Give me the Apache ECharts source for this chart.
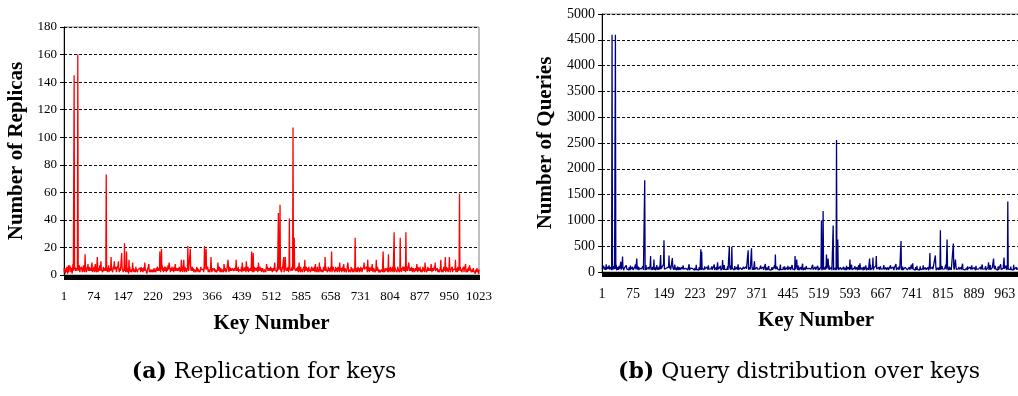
<!DOCTYPE html>
<html>
<head>
<meta charset="utf-8">
<script src="https://cdn.jsdelivr.net/npm/echarts@6/dist/echarts.min.js"></script>
<style>
  html, body { margin: 0; padding: 0; background: #fff; }
  #chart { width: 1018px; height: 396px; }
</style>
</head>
<body>
<div id="chart"></div>
<script>
// replicas per key: background level
const replicaBase = [
  5,2,4,1,3,5,2,6,3,1, 4,7,2,5,3,4,6,2,3,5, 1,4,8,3,2,5,4,6,3,2, 5,
  4,3,6,2,5,4,3,7,2,4, 5,3,6,4,2,3,5,7,4,2, 6,3,4,5,2,3,6,4,5,3, 2,
  6,3,4,2,5,3,7,4,2,5, 3,4,6,2,3,8,4,5,2,3, 6,4,2,5,3,4,7,3,2,5, 4,
  3,5,2,4,6,3,4,2,5,3, 6,4,3,5,2,4,3,7,2,5, 4,3,6,2,4,5,3,2,6,4, 3,
  2,4,5,3,6,2,4,3,5,7, 3,4,2,5,6,3,4,2,3,5, 4,6,2,3,5,4,3,6,2,4, 5,
  4,2,3,5,1,4,3,6,2,4, 5,3,2,4,6,3,5,2,4,3, 5,2,6,4,3,5,2,4,3,5, 4,
  3,5,4,2,6,3,4,5,2,3, 4,6,3,2,5,4,3,2,1,3, 4,2,3,5,2,4,3,2,4,3, 5,
  2,3,4,2,3,5,2,4,3,2, 5,3,4,6,3,2,4,5,3,6, 4,2,5,3,4,7,3,5,2,4, 6,
  5,3,4,6,2,5,4,3,7,4, 5,3,6,4,2,5,3,4,6,3, 5,4,2,6,3,5,4,3,2,4, 5,
  3,4,2,5,3,6,4,2,3,5, 4,3,6,2,4,5,3,4,2,6, 3,5,4,2,3,5,4,6,3,2, 4,
  4,2,5,3,4,2,6,3,5,4, 2,3,4,5,3,2,4,6,3,5, 2,4,3,5,4,2,3,6,4,3, 5,
  3,5,4,2,6,3,4,5,3,2, 4,3,5,6,2,4,3,5,2,4, 6,3,4,2,5,3,4,2,3,5, 4,
  2,4,3,5,2,3,4,2,5,3, 4,6,2,3,5,4,2,3,4,5, 3,2,4,6,3,5,4,2,3,4, 5,
  4,3,5,2,4,6,3,5,4,3, 2,5,4,6,3,4,2,5,3,4, 6,2,3,5,4,3,6,2,4,5, 3,
  5,4,3,6,2,4,5,3,4,2, 5,3,6,4,2,3,5,4,3,6, 2,5,4,3,2,4,5,3,6,4, 2,
  3,5,2,4,6,3,4,2,5,4, 3,6,2,4,5,3,2,4,6,3, 5,4,2,3,5,4,6,2,3,4, 5,
  4,2,3,5,4,6,3,2,5,4, 3,2,4,6,3,5,4,2,3,5, 4,3,6,2,4,5,3,4,2,6, 3,
  2,5,4,3,6,2,4,3,5,2, 6,4,3,5,4,2,3,6,4,5, 3,2,4,5,3,6,2,4,3,5, 4,
  5,3,4,2,6,3,5,4,3,2, 5,6,3,4,2,5,3,4,6,2, 3,5,4,3,2,6,4,5,3,2, 4,
  3,4,6,2,5,3,4,2,6,3, 5,4,2,3,6,4,5,3,2,4, 5,6,3,2,4,5,3,4,6,2, 3,
  4,5,3,2,6,4,3,5,2,4, 3,6,5,2,4,3,5,4,2,6, 3,4,5,2,3,6,4,3,5,2, 4,
  6,3,4,5,2,4,6,3,5,2, 4,3,6,4,5,3,2,4,6,3, 5,4,2,3,6,5,4,2,3,5, 4,
  3,5,2,4,6,3,4,5,2,3, 5,4,6,2,3,4,5,3,6,2, 4,5,3,4,2,6,3,5,4,2, 3,
  4,2,5,3,4,6,2,3,5,4, 2,6,3,4,5,2,3,4,6,3, 5,2,4,3,5,6,2,4,3,5, 4,
  3,6,4,2,5,3,4,6,2,5, 3,4,2,6,3,5,4,2,3,5, 6,4,2,3,4,5,3,2,6,4, 3,
  2,3,4,2,3,1,2,3,4,2, 3,5,2,3,4,2,5,3,2,4, 3,5,2,4,3,2,5,4,3,6, 2,
  5,4,3,6,2,4,5,3,2,6, 4,3,5,4,2,3,6,4,5,3, 2,4,6,3,5,2,4,3,5,6, 3,
  4,6,3,5,2,4,3,6,5,3, 4,2,5,6,3,4,2,5,3,6, 4,2,3,5,4,6,2,3,5,4, 3,
  3,5,4,2,6,3,5,4,3,6, 2,4,5,3,2,4,6,3,5,4, 2,3,6,4,5,2,3,4,6,3, 5,
  4,3,2,5,3,4,6,2,3,5, 4,3,2,6,4,5,3,2,4,3, 5,6,2,4,3,5,2,4,6,3, 4,
  2,4,3,5,2,6,3,4,5,3, 2,4,6,3,5,4,2,3,5,4, 6,2,3,4,5,3,6,2,4,3, 5,
  5,3,4,6,2,3,5,4,2,6, 3,4,5,2,3,6,4,5,3,2, 4,3,5,6,2,4,3,5,4,2, 3,
  3,4,2,5,3,6,4,2,3,5, 4,2,3,1,4,2,5,3,4,2, 3,1,4,2,3,5,2,4,3,1, 4
];

// [key, replicas] peaks in panel (a)
const replicaPeaks = [
  [15,7],[26,145],[35,160],[53,15],[60,8],[70,9],[83,13],[92,10],[105,73],[117,13],
  [125,10],[135,10],[143,16],[150,23],[155,17],[161,11],[170,9],[200,9],[210,8],
  [237,17],[241,19],[260,9],[275,8],[290,11],[296,11],[306,21],[312,19],[347,21],
  [351,19],[363,13],[380,9],[395,8],[405,11],[425,11],[440,9],[450,10],[463,17],
  [467,16],[480,9],[500,8],[520,9],[529,45],[533,51],[542,13],[546,13],[556,41],
  [565,107],[568,27],[580,9],[594,11],[620,8],[630,9],[644,13],[660,17],[680,9],
  [690,8],[700,9],[718,27],[740,9],[749,11],[760,8],[770,11],[787,17],[800,15],
  [814,31],[829,27],[843,31],[850,9],[870,8],[890,9],[905,8],[915,9],[929,11],
  [940,13],[950,13],[965,11],[975,59],[990,8],[1000,7]
];

// queries per key, panel (b): background level
const queryBase = [
  60,35,80,45,120,50,30,90,65,40, 150,55,70,35,100,60,45,130,50,75, 40,95,60,35,85,170,50,65,40,110, 55,
  80,45,60,140,35,70,50,95,40,65, 120,55,30,85,60,45,160,70,40,90, 55,35,75,110,50,65,40,130,60,45, 85,
  50,70,40,95,60,35,125,55,80,45, 65,100,40,55,75,35,90,60,145,50, 40,70,85,45,60,105,35,75,50,65, 95,
  45,60,35,80,55,115,40,70,50,90, 35,65,135,45,55,80,40,60,95,50, 70,35,120,55,45,85,60,40,100,65, 50,
  70,40,90,55,35,75,60,130,45,65, 50,85,40,110,55,70,35,60,95,45, 80,50,40,150,65,55,35,90,60,45, 75,
  55,85,40,65,100,35,70,50,120,45, 60,80,35,55,95,65,40,75,50,140, 45,60,85,35,70,55,105,40,65,50, 90,
  40,60,75,35,95,50,65,45,125,55, 40,80,60,35,70,100,45,55,85,40, 65,50,115,35,60,75,45,90,55,40, 70,
  65,45,100,55,35,80,60,40,140,50, 70,45,85,55,35,95,60,45,75,125, 40,55,65,35,90,50,70,45,110,60, 40,
  50,75,40,95,60,45,130,55,35,70, 85,40,60,50,105,45,65,35,80,55, 145,40,70,50,60,90,35,55,75,45, 100,
  60,40,85,50,120,35,65,55,75,45, 95,40,60,135,50,70,35,55,80,45, 65,110,40,55,70,35,90,60,45,125, 50,
  45,70,35,90,55,60,40,115,50,75, 35,65,95,45,55,150,40,70,60,35, 85,50,65,120,45,55,75,35,100,60, 45,
  75,50,40,105,60,35,80,55,130,45, 65,40,90,50,70,35,60,110,45,55, 85,40,65,140,50,35,75,60,45,95, 55,
  40,65,90,35,55,75,45,125,60,50, 35,80,55,100,40,65,45,70,155,35, 60,50,85,40,70,55,115,45,60,35, 80,
  55,35,70,95,45,60,40,85,50,130, 65,35,55,75,45,105,60,40,90,50, 70,35,60,145,45,55,80,40,65,50, 100,
  70,45,110,40,60,55,35,85,65,45, 120,50,75,35,60,95,40,55,70,45, 135,60,35,80,50,65,40,105,55,45, 75,
  50,80,40,60,125,35,55,70,45,95, 60,40,75,50,160,35,65,55,45,85, 40,70,50,115,60,35,90,45,55,70, 40,
  65,40,95,55,35,70,50,140,45,60, 80,35,55,100,45,65,40,75,50,120, 35,60,85,45,55,70,40,95,60,35, 110,
  45,75,50,35,90,60,45,115,55,40, 70,65,35,85,50,130,45,60,40,75, 55,95,35,65,50,150,40,70,55,45, 80,
  60,35,85,50,70,45,105,40,65,55, 35,90,60,125,45,50,75,35,65,100, 40,55,80,45,60,35,120,50,70,40, 90,
  55,70,40,95,50,35,65,140,45,60, 80,40,55,70,35,110,50,65,45,90, 60,35,75,50,130,40,65,55,85,45, 60,
  40,85,55,65,35,100,45,70,50,60, 125,35,55,80,45,65,40,95,60,50, 35,145,45,70,55,40,85,60,35,75, 50,
  70,45,60,120,40,55,85,35,65,50, 95,45,70,35,110,55,40,65,80,45, 60,35,135,50,70,45,55,90,40,65, 50,
  55,90,40,65,50,75,35,130,60,45, 70,55,40,100,65,35,80,50,60,45, 155,40,70,55,35,85,60,45,115,50, 65,
  45,60,80,35,55,105,40,70,50,65, 35,90,55,45,125,60,40,75,35,65, 50,95,45,60,70,35,140,55,45,80, 60,
  65,40,75,55,35,95,60,45,120,50, 70,40,85,60,35,55,110,45,65,50, 80,35,60,130,45,55,75,40,90,60, 45,
  50,70,45,90,60,35,65,150,40,55, 75,45,60,35,100,50,70,40,85,55, 45,65,120,35,60,50,80,45,70,40, 95,
  60,45,85,50,70,40,115,55,35,65, 90,45,60,75,35,140,50,60,45,80, 55,35,70,105,45,60,50,85,40,65, 55,
  75,40,60,95,45,55,70,35,125,50, 65,45,80,35,60,100,50,70,40,55, 90,45,65,35,160,50,60,75,45,55, 40,
  45,65,50,80,35,110,60,45,70,55, 40,95,65,50,35,130,55,45,75,60, 40,85,50,65,35,120,55,70,45,60, 90,
  55,80,40,65,50,100,45,60,35,145, 55,70,45,85,40,60,50,115,35,65, 75,45,60,95,50,40,70,55,135,45, 65,
  40,60,85,50,70,35,95,55,45,120, 60,40,75,50,65,35,110,45,55,80, 40,65,150,50,60,45,85,35,70,55, 100,
  65,45,70,55,125,40,60,80,45,55, 35,90,60,70,45,105,50,40,65,85, 55,35,140,45,60,75,50,40,95,60, 45,
  50,75,40,60,95,45,55,35,115,60, 70,45,80,50,35,100,55,65,40,85, 50,60,45,130,55,70,40,90,45,65, 55
];

// [key, queries] peaks in panel (b)
const queryPeaks = [
  [25,4600],[33,4600],[46,200],[50,300],[84,260],[103,1780],[117,310],[125,240],
  [141,330],[149,615],[161,320],[169,270],[209,150],[237,440],[239,390],[277,190],
  [289,230],[305,490],[311,490],[350,420],[358,460],[365,210],[415,340],[462,310],
  [466,240],[525,1000],[529,1180],[537,340],[541,260],[553,900],[561,2560],[564,630],
  [593,240],[617,170],[640,260],[648,280],[656,310],[715,600],[743,170],[784,370],
  [797,320],[809,810],[825,630],[840,550],[845,240],[924,190],[936,260],[961,280],
  [970,1365]
];

const replicaYTicks = {min: 0, max: 180, interval: 20};
const queryYTicks = {min: 0, max: 5000, interval: 500};

const withPeaks = (base, peaks) => {
    const out = base.slice();
    peaks.forEach(([k, v]) => { out[k - 1] = v; });
    return out;
};

const keys = replicaBase.map((_, i) => String(i + 1));
const replicas = withPeaks(replicaBase, replicaPeaks);
const queries = withPeaks(queryBase, queryPeaks);

const serif = 'Liberation Serif';

const xAxisFor = (gridIndex, labelEvery, fontSize, margin, gap) => ({
    type: 'category',
    gridIndex,
    data: keys,
    boundaryGap: false,
    axisLine: {lineStyle: {color: '#000', width: 1}},
    axisTick: {interval: 0, length: 5, lineStyle: {color: '#000'}},
    axisLabel: {interval: labelEvery - 1, color: '#000', fontFamily: serif, fontSize, margin},
    splitLine: {show: false},
    name: 'Key Number',
    nameLocation: 'middle',
    nameGap: gap,
    nameTextStyle: {color: '#000', fontFamily: serif, fontWeight: 'bold', fontSize: 21}
});

const yAxisFor = (gridIndex, ticks, name, gap, fontSize) => ({
    type: 'value',
    gridIndex,
    min: ticks.min,
    max: ticks.max,
    interval: ticks.interval,
    axisLine: {show: true, lineStyle: {color: '#000', width: 1}},
    axisTick: {show: true, length: 4, lineStyle: {color: '#000'}},
    axisLabel: {color: '#000', fontFamily: serif, fontSize, margin: 7, formatter: v => String(v)},
    splitLine: {lineStyle: {color: '#111', type: [3, 2], width: 1}},
    name,
    nameLocation: 'middle',
    nameRotate: 90,
    nameGap: gap,
    nameTextStyle: {color: '#000', fontFamily: serif, fontWeight: 'bold', fontSize: 21}
});

const myChart = echarts.init(document.getElementById('chart'));

const captionFont = 'DejaVu Serif';

const option = {
    animation: false,
    backgroundColor: '#fff',
    grid: [
        {left: 64, top: 27, width: 415, height: 248, show: true, borderColor: '#808080', borderWidth: 1,
            outerBoundsMode: 'none'},
        {left: 602, top: 14, width: 428, height: 258, show: true, borderColor: '#808080', borderWidth: 1,
            outerBoundsMode: 'none'}
    ],
    xAxis: [xAxisFor(0, 73, 13, 15, 38), xAxisFor(1, 74, 14, 15, 38)],
    yAxis: [
        yAxisFor(0, replicaYTicks, 'Number of Replicas', 37, 13),
        yAxisFor(1, queryYTicks, 'Number of Queries', 46, 14)
    ],
    series: [
        {
            type: 'line', xAxisIndex: 0, yAxisIndex: 0, data: replicas,
            showSymbol: false, lineStyle: {color: '#ff0000', width: 1.3}, itemStyle: {color: '#ff0000'}
        },
        {
            type: 'line', xAxisIndex: 1, yAxisIndex: 1, data: queries,
            showSymbol: false, lineStyle: {color: '#000080', width: 1.3}, itemStyle: {color: '#000080'}
        }
    ],
    graphic: [
        {
            type: 'text', x: 264, y: 372,
            style: {
                text: '{b|(a)} Replication for keys',
                font: '22px "DejaVu Serif"', fill: '#000',
                align: 'center', verticalAlign: 'middle',
                rich: {b: {fontWeight: 'bold', fontSize: 22, fontFamily: captionFont}}
            }
        },
        {
            type: 'text', x: 799, y: 372,
            style: {
                text: '{b|(b)} Query distribution over keys',
                font: '22px "DejaVu Serif"', fill: '#000',
                align: 'center', verticalAlign: 'middle',
                rich: {b: {fontWeight: 'bold', fontSize: 22, fontFamily: captionFont}}
            }
        }
    ]
};

myChart.setOption(option);

if (replicaBase.length !== 1023 || queryBase.length !== 1023) {
    throw new Error('lengths ' + replicaBase.length + ' ' + queryBase.length);
}
</script>
</body>
</html>
